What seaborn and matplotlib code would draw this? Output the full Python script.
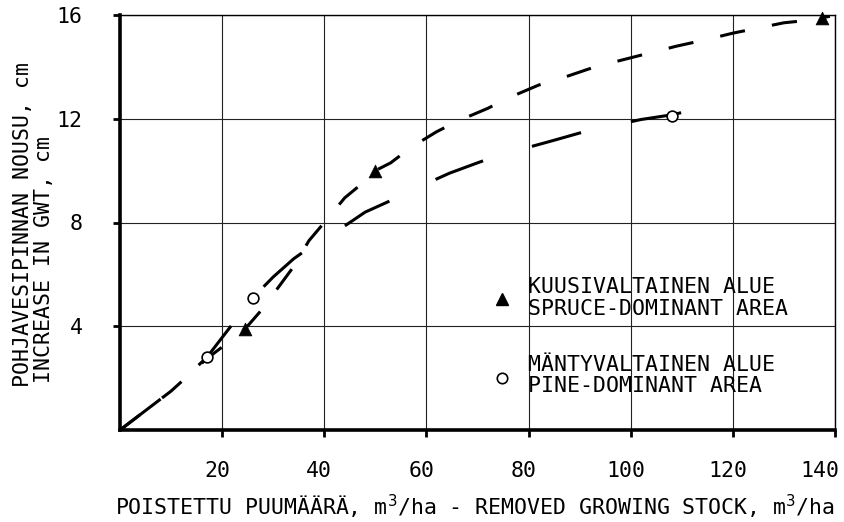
import pandas as pd
import matplotlib.pyplot as plt
import matplotlib.transforms as mtransforms
import seaborn as sns

# curve readings (x = removed stock m3/ha, y = increase in GWT cm)
spruce_curve_x = [0, 10, 17, 21, 24.5, 27.6, 31, 34, 37, 40, 44, 48, 50, 53, 57,
                  62, 66, 72, 76, 82, 87, 93, 98, 104, 109, 115, 120, 125, 130, 135, 139]
spruce_curve_y = [0, 1.5, 2.75, 3.35, 3.9, 4.6, 5.5, 6.3, 7.3, 8.0, 8.95, 9.6, 10.0, 10.3, 10.9,
                  11.5, 11.9, 12.4, 12.8, 13.3, 13.6, 14.0, 14.25, 14.55, 14.8, 15.06, 15.3, 15.5, 15.7, 15.8, 15.95]
pine_curve_x = [0, 10, 17, 21.7, 26, 30, 34, 39, 43.8, 48, 53.4, 60, 64.5, 70, 74.3,
                80, 84.8, 90, 94, 98, 102, 108, 111.4]
pine_curve_y = [0, 1.5, 2.8, 4.0, 5.1, 5.9, 6.6, 7.3, 7.84, 8.4, 8.88, 9.5, 9.9, 10.3, 10.6,
                10.9, 11.16, 11.45, 11.6, 11.8, 11.97, 12.15, 12.3]

# observed points
spruce_obs_x = [24.5, 50, 137.5]
spruce_obs_y = [3.9, 10.0, 15.9]
pine_obs_x = [17, 26, 108]
pine_obs_y = [2.8, 5.1, 12.1]

x_ticks = [20, 40, 60, 80, 100, 120, 140]
y_ticks = [4, 8, 12, 16]

sns.set_theme(style="whitegrid", rc={
    "axes.edgecolor": "black",
    "grid.color": "#222222",
    "grid.linewidth": 0.8,
    "xtick.color": "black",
    "ytick.color": "black",
    "text.color": "black",
})
plt.rcParams['font.family'] = ['DejaVu Sans Mono', 'DejaVu Sans']
plt.rcParams['mathtext.fontset'] = 'dejavusans'

FS = 15.5

curves = pd.concat([
    pd.DataFrame({'x': spruce_curve_x, 'y': spruce_curve_y, 'area': 'spruce'}),
    pd.DataFrame({'x': pine_curve_x, 'y': pine_curve_y, 'area': 'pine'}),
], ignore_index=True)

fig = plt.figure(figsize=(8.44, 5.22), dpi=100)
ax = fig.add_axes([120 / 844, 1 - 430 / 522, 715 / 844, 415 / 522])

sns.lineplot(data=curves, x='x', y='y', style='area',
             dashes={'spruce': (8.3, 9.0), 'pine': (16.7, 16.7)},
             color='black', linewidth=2.2, estimator=None, sort=False,
             legend=False, ax=ax)

sns.scatterplot(x=spruce_obs_x, y=spruce_obs_y, marker='^', s=85, color='black',
                edgecolor='black', linewidth=0.5, ax=ax, clip_on=False, zorder=5)
sns.scatterplot(x=pine_obs_x, y=pine_obs_y, marker='o', s=60, facecolor='white',
                edgecolor='black', linewidth=1.2, ax=ax, clip_on=False, zorder=5)

ax.set_xlim(0, 140)
ax.set_ylim(0, 16)
ax.set_xticks(x_ticks)
ax.set_yticks(y_ticks)
ax.set_xticklabels([str(v) for v in x_ticks], fontsize=FS)
ax.set_yticklabels([str(v) for v in y_ticks], fontsize=FS)
ax.set_xlabel('')
ax.set_ylabel('')
ax.grid(True, color='#222222', linewidth=0.8)
ax.tick_params(axis='x', direction='out', length=5, width=2, pad=17, bottom=True)
ax.tick_params(axis='y', direction='out', length=5, width=2, pad=22, left=True)

# tick labels in the original sit a little left of their ticks
xlabels = ax.get_xticklabels()
for lab in xlabels[:-1]:
    lab.set_transform(lab.get_transform() +
                      mtransforms.ScaledTranslation(-5 / 100, 0, fig.dpi_scale_trans))
xlabels[-1].set_horizontalalignment('right')
xlabels[-1].set_transform(xlabels[-1].get_transform() +
                          mtransforms.ScaledTranslation(4 / 100, 0, fig.dpi_scale_trans))

for side in ['left', 'bottom']:
    ax.spines[side].set_linewidth(2.6)
for side in ['top', 'right']:
    ax.spines[side].set_linewidth(1.0)

# legend drawn as text block inside the plot
ax.plot([0.534], [0.316], marker='^', ms=9, color='black', transform=ax.transAxes, clip_on=False)
ax.plot([0.534], [0.125], marker='o', ms=7.5, mfc='white', mec='black', mew=1.2,
        transform=ax.transAxes, clip_on=False)
leg_x = (528 - 120) / 715
ax.text(leg_x, (430 - 293) / 415, 'KUUSIVALTAINEN ALUE', transform=ax.transAxes,
        fontsize=FS, va='baseline', ha='left')
ax.text(leg_x, (430 - 315) / 415, 'SPRUCE-DOMINANT AREA', transform=ax.transAxes,
        fontsize=FS, va='baseline', ha='left')
ax.text(leg_x, (430 - 371) / 415, 'MÄNTYVALTAINEN ALUE', transform=ax.transAxes,
        fontsize=FS, va='baseline', ha='left')
ax.text(leg_x, (430 - 392) / 415, 'PINE-DOMINANT AREA', transform=ax.transAxes,
        fontsize=FS, va='baseline', ha='left')

# axis titles
fig.text(475 / 844, 1 - 515 / 522,
         r'POISTETTU PUUMÄÄRÄ, m$^3$/ha - REMOVED GROWING STOCK, m$^3$/ha',
         fontsize=FS, ha='center', va='baseline')
fig.text(23 / 844, 1 - 387 / 522, 'POHJAVESIPINNAN NOUSU, cm', rotation=90,
         fontsize=FS, ha='center', va='bottom')
fig.text(44 / 844, 1 - 383 / 522, 'INCREASE IN GWT, cm', rotation=90,
         fontsize=FS, ha='center', va='bottom')

fig.savefig('out.png', dpi=100)
plt.close(fig)
